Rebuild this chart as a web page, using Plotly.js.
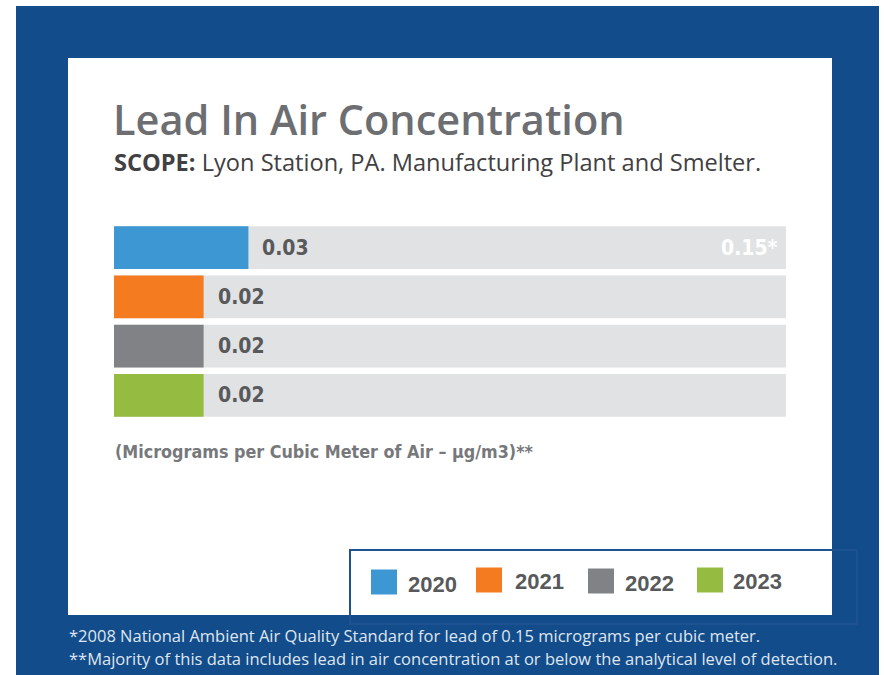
<!DOCTYPE html>
<html>
<head>
<meta charset="utf-8">
<script src="https://cdn.plot.ly/plotly-3.0.1.min.js"></script>
<style>
  html, body { margin: 0; padding: 0; background: #ffffff; }
  #chart { width: 884px; height: 675px; }
</style>
</head>
<body>
<div id="chart"></div>
<script>
// ---- data ----
var years = ['2020', '2021', '2022', '2023'];
var values = [0.03, 0.02, 0.02, 0.02];
var valueLabels = ['0.03', '0.02', '0.02', '0.02'];
var standardValue = 0.15;
var standardLabel = '0.15*';
var barColors = ['#3d97d3', '#f47b20', '#808285', '#95bc41'];

var titleText = 'Lead In Air Concentration';
var subtitleText = '<b>SCOPE:</b> Lyon Station, PA. Manufacturing Plant and Smelter.';
var unitText = '(Micrograms per Cubic Meter of Air – µg/m3)**';
var footnotes = [
  '*2008 National Ambient Air Quality Standard for lead of 0.15 micrograms per cubic meter.',
  '**Majority of this data includes lead in air concentration at or below the analytical level of detection.'
];

// ---- layout geometry (pixels) ----
var Wd = 884, Ht = 675;
var L = 114, R = 98, T = 223, B = 255;
var PW = Wd - L - R, PH = Ht - T - B;
function px(x) { return (x - L) / PW; }
function py(y) { return 1 - (y - T) / PH; }

var condFont = '"Liberation Sans Narrow", "DejaVu Sans Condensed", "Arial Narrow", sans-serif';
var labelColor = '#58595b';
var bodyFont = '"Open Sans", Lato, sans-serif';

var cats = years.map(function (y) { return 'Y' + y; });

var traces = [
  {
    type: 'bar', orientation: 'h',
    y: cats, x: years.map(function () { return standardValue; }),
    marker: { color: '#e1e2e4' }, width: 0.87,
    hoverinfo: 'skip', showlegend: false
  },
  {
    type: 'bar', orientation: 'h',
    y: cats, x: values,
    marker: { color: barColors }, width: 0.87,
    showlegend: false
  }
];

var annotations = [];
// value labels
cats.forEach(function (c, i) {
  annotations.push({
    x: values[i], y: c, xref: 'x', yref: 'y',
    text: '<b>' + valueLabels[i] + '</b>', showarrow: false,
    xanchor: 'left', yanchor: 'middle', xshift: 12,
    font: { family: condFont, size: 21, color: labelColor }
  });
});
// standard label
annotations.push({
  x: standardValue, y: cats[0], xref: 'x', yref: 'y',
  text: '<b>' + standardLabel + '</b>', showarrow: false,
  xanchor: 'right', yanchor: 'middle', xshift: -6,
  font: { family: condFont, size: 21, color: '#ffffff' }
});
// title & subtitle
annotations.push({
  x: px(111), y: py(119), xref: 'paper', yref: 'paper',
  text: titleText, showarrow: false,
  xanchor: 'left', yanchor: 'middle',
  font: { family: bodyFont, size: 41.5, weight: 600, color: '#6d6e71' }
});
annotations.push({
  x: px(112), y: py(162), xref: 'paper', yref: 'paper',
  text: subtitleText, showarrow: false,
  xanchor: 'left', yanchor: 'middle',
  font: { family: bodyFont, size: 23.6, color: '#414042' }
});
// unit note
annotations.push({
  x: px(113), y: py(451), xref: 'paper', yref: 'paper',
  text: '<b>' + unitText + '</b>', showarrow: false,
  xanchor: 'left', yanchor: 'middle',
  font: { family: '"DejaVu Sans Condensed", sans-serif', size: 17.8, color: '#77787b' }
});
// footnotes
var footY = [635, 658];
footnotes.forEach(function (t, i) {
  annotations.push({
    x: px(67), y: py(footY[i]), xref: 'paper', yref: 'paper',
    text: t, showarrow: false, xanchor: 'left', yanchor: 'middle',
    font: { family: bodyFont, size: 16.5, color: '#dfe6f0' }
  });
});

var shapes = [
  { type: 'rect', xref: 'paper', yref: 'paper', layer: 'below',
    x0: px(16), x1: px(879), y0: py(675), y1: py(6),
    fillcolor: '#134c8a', line: { width: 0 } },
  { type: 'rect', xref: 'paper', yref: 'paper', layer: 'below',
    x0: px(68), x1: px(832), y0: py(615), y1: py(58),
    fillcolor: '#ffffff', line: { width: 0 } },
  { type: 'rect', xref: 'paper', yref: 'paper', layer: 'below',
    x0: px(350), x1: px(857), y0: py(624), y1: py(550),
    fillcolor: 'rgba(0,0,0,0)', line: { width: 2, color: '#1d5190' } }
];

// legend (manual)
var legSquareX = [371, 476, 588, 697];
var legTextX = [406, 513, 623, 731];
var legY = [582, 580, 581, 580];
years.forEach(function (yr, i) {
  shapes.push({ type: 'rect', xref: 'paper', yref: 'paper', layer: 'above',
    x0: px(legSquareX[i]), x1: px(legSquareX[i] + 26),
    y0: py(legY[i] + 12.5), y1: py(legY[i] - 12.5),
    fillcolor: barColors[i], line: { width: 0 } });
  annotations.push({
    x: px(legTextX[i]), y: py(legY[i] + 1 + (i % 2 === 0 ? 1 : 0)), xref: 'paper', yref: 'paper',
    text: '<b>' + yr + '</b>', showarrow: false, xanchor: 'left', yanchor: 'middle',
    font: { family: 'Arial, "Liberation Sans", sans-serif', size: 22, color: '#58595b' }
  });
});

var layout = {
  width: Wd, height: Ht,
  margin: { l: L, r: R, t: T, b: B, pad: 0 },
  paper_bgcolor: '#ffffff', plot_bgcolor: 'rgba(0,0,0,0)',
  barmode: 'overlay',
  showlegend: false,
  xaxis: { range: [0, standardValue], autorange: false, visible: false, fixedrange: true },
  yaxis: { type: 'category', categoryorder: 'array', categoryarray: cats,
           range: [3.5, -0.5], autorange: false, visible: false, fixedrange: true },
  shapes: shapes,
  annotations: annotations
};

Plotly.newPlot('chart', traces, layout, { displayModeBar: false, staticPlot: true });
</script>
</body>
</html>
